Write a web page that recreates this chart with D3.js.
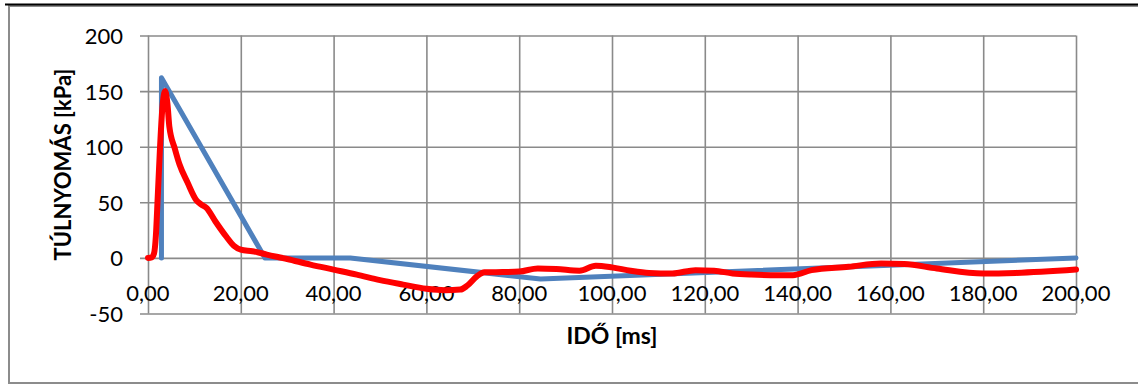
<!DOCTYPE html>
<html>
<head>
<meta charset="utf-8">
<script src="https://cdn.jsdelivr.net/npm/d3@7"></script>
<style>
  html, body { margin: 0; padding: 0; background: #fff; }
  svg { display: block; }
  text { font-family: Lato, "Open Sans", "Liberation Sans", sans-serif; fill: #000; }
</style>
</head>
<body>
<svg id="chart" width="1138" height="385"></svg>
<script>
// Blast overpressure vs. time: idealised (blue) and measured (red)
const xTicks = [0, 20, 40, 60, 80, 100, 120, 140, 160, 180, 200];
const yTicks = [-50, 0, 50, 100, 150, 200];

// idealised Friedlander-style triangle profile [ms, kPa]
const idealTime = [2.9, 2.9, 25.2, 43.6, 84.6, 200];
const idealPressure = [0, 162, 0, 0, -19, 0];

// measured pressure trace [ms, kPa]
const measuredTime = [0, 0.8, 1.3, 1.7, 2.1, 2.6, 3.1, 3.7, 4.2, 4.6, 5.8, 6.8, 8.5, 10.4, 11.5, 12.6, 14.5, 16.9, 18.5, 20, 22.5, 25.6, 30, 35, 40, 45, 50, 55, 60, 64, 67.3, 68.8, 70.9, 72.5, 75, 80, 84, 88, 93, 96.5, 100, 104, 108, 113, 118, 122, 126, 130, 136, 139, 143, 151, 158, 163, 170, 180, 187, 200];
const measuredPressure = [0, 0.5, 4, 20, 55, 100, 135, 150, 138, 118, 98, 84, 68, 52, 48, 45, 33, 19, 11, 7.5, 6, 3, -1, -6, -10.5, -15, -20, -24, -27.7, -29, -28.5, -25, -16.5, -13, -12.8, -12.3, -9.5, -10, -11.5, -7, -8.5, -11.5, -13.5, -14, -11, -11.5, -14, -15, -15.5, -15.5, -11, -8, -5, -5.5, -9.5, -14, -13.5, -10.5];

const svg = d3.select("#chart");
const plotLeft = 148, plotRight = 1076, plotTop = 35.5, plotBottom = 313.5;

const x = d3.scaleLinear().domain([0, 200]).range([plotLeft, plotRight]);
const y = d3.scaleLinear().domain([-50, 200]).range([plotBottom, plotTop]);

// outer chart frame
svg.append("rect").attr("x", 9).attr("y", 6).attr("width", 1140).attr("height", 377)
  .attr("fill", "none").attr("stroke", "#8c8c8c").attr("stroke-width", 2);
svg.append("line").attr("x1", 5).attr("x2", 1138).attr("y1", 4.5).attr("y2", 4.5)
  .attr("stroke", "#000").attr("stroke-width", 2);

const gridColor = "#8a8a8a";

// horizontal gridlines with small left ticks
const yAxis = d3.axisLeft(y).tickValues(yTicks).tickSize(-(plotRight - plotLeft)).tickPadding(25).tickFormat(d => String(d));
const gy = svg.append("g").attr("transform", `translate(${plotLeft},0)`).call(yAxis);
gy.select(".domain").remove();
gy.selectAll(".tick line").attr("x1", -8).attr("stroke", gridColor).attr("stroke-width", 1.6);
gy.selectAll(".tick text").attr("x", -25).style("font-size", "22px").attr("dy", "0.36em");

// vertical gridlines
const gx = svg.append("g").attr("transform", `translate(0,${plotBottom})`)
  .call(d3.axisBottom(x).tickValues(xTicks).tickSize(-(plotBottom - plotTop)).tickFormat(""));
gx.select(".domain").remove();
gx.selectAll(".tick line").attr("stroke", gridColor).attr("stroke-width", 1.6);

// x tick labels sit under the zero line
const fmt = d => d.toFixed(2).replace(".", ",");
svg.append("g").selectAll("text").data(xTicks).join("text")
  .attr("x", d => x(d)).attr("y", y(0) + 43)
  .attr("text-anchor", "middle").style("font-size", "22px")
  .text(fmt);

// series
const idealData = idealTime.map((t, i) => [t, idealPressure[i]]);
const measuredData = measuredTime.map((t, i) => [t, measuredPressure[i]]);

svg.append("path").datum(idealData)
  .attr("d", d3.line().x(d => x(d[0])).y(d => y(d[1])))
  .attr("fill", "none").attr("stroke", "#4f81bd").attr("stroke-width", 5)
  .attr("stroke-linejoin", "round").attr("stroke-linecap", "round");

svg.append("path").datum(measuredData)
  .attr("d", d3.line().curve(d3.curveMonotoneX).x(d => x(d[0])).y(d => y(d[1])))
  .attr("fill", "none").attr("stroke", "#ff0000").attr("stroke-width", 6)
  .attr("stroke-linejoin", "round").attr("stroke-linecap", "round");

// axis titles
svg.append("text").attr("x", (plotLeft + plotRight) / 2).attr("y", 344)
  .attr("text-anchor", "middle").style("font-size", "23px").style("font-weight", "bold")
  .text("IDŐ [ms]");
svg.append("text")
  .attr("transform", `translate(71,${(plotTop + plotBottom) / 2 - 10}) rotate(-90)`)
  .attr("text-anchor", "middle").style("font-size", "22px").style("font-weight", "bold")
  .text("TÚLNYOMÁS [kPa]");
</script>
</body>
</html>
